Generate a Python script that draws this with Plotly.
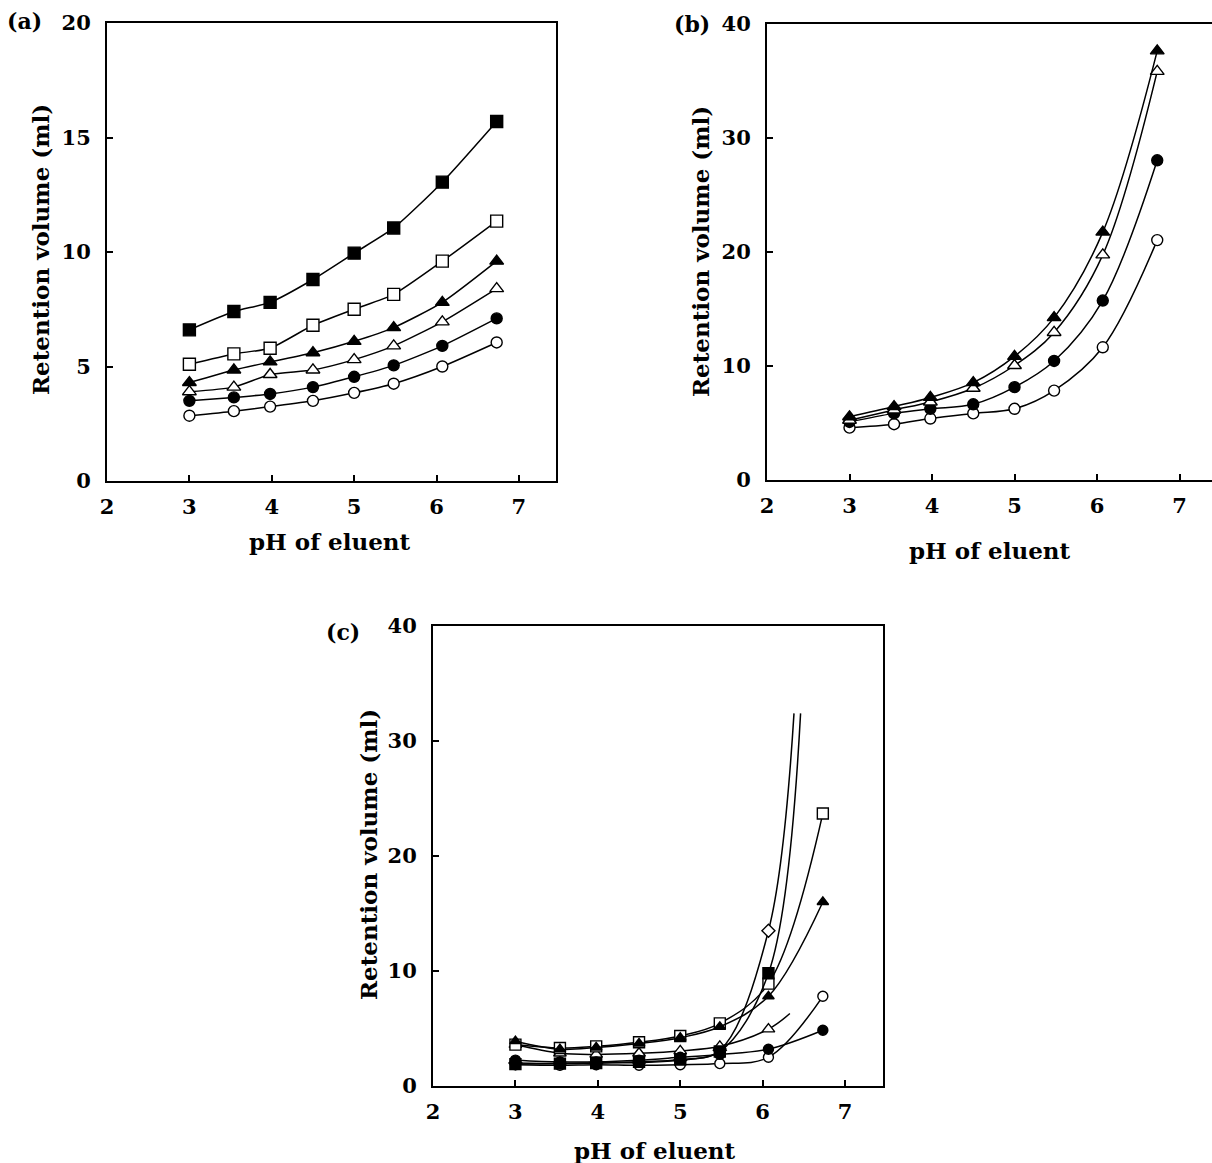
import plotly.graph_objects as go

W, H = 1212, 1163

# ---------------- data ----------------
ph = [3.0, 3.54, 3.98, 4.5, 5.0, 5.48, 6.07, 6.73]

# panel (a)
a_fsq = [6.6, 7.4, 7.8, 8.8, 9.95, 11.05, 13.05, 15.7]
a_osq = [5.1, 5.55, 5.8, 6.8, 7.5, 8.15, 9.6, 11.35]
a_ftr = [4.3, 4.85, 5.2, 5.6, 6.1, 6.7, 7.8, 9.6]
a_otr = [3.9, 4.1, 4.65, 4.85, 5.3, 5.9, 6.95, 8.4]
a_fci = [3.5, 3.65, 3.8, 4.1, 4.55, 5.05, 5.9, 7.1]
a_oci = [2.85, 3.05, 3.25, 3.5, 3.85, 4.25, 5.0, 6.05]

# panel (b)
b_ftr = [5.5, 6.4, 7.2, 8.5, 10.8, 14.2, 21.7, 37.6]
b_otr = [5.2, 6.1, 6.8, 8.0, 10.0, 12.9, 19.7, 35.8]
b_fci = [5.05, 5.8, 6.2, 6.6, 8.1, 10.4, 15.7, 28.0]
b_oci = [4.55, 4.85, 5.35, 5.8, 6.2, 7.8, 11.6, 21.0]

# panel (c)
c_osq = [3.6, 3.3, 3.45, 3.8, 4.35, 5.45, 8.9, 23.7]
c_ftr = [3.9, 3.2, 3.35, 3.7, 4.2, 5.15, 7.8, 16.0]
c_otr = [3.6, 2.85, 2.75, 2.85, 3.05, 3.45, 4.95]
c_otr_end = (6.33, 6.3)
c_fci = [2.25, 2.1, 2.1, 2.25, 2.5, 2.75, 3.2, 4.85]
c_oci = [1.85, 1.8, 1.85, 1.8, 1.85, 1.95, 2.5, 7.8]
c_fsq = [1.9, 1.95, 2.0, 2.1, 2.3, 3.0, 9.8]
c_fsq_end = (6.46, 32.4)
c_odi = [2.0, 1.95, 2.0, 2.05, 2.25, 3.1, 13.5]
c_odi_end = (6.38, 32.4)

x_ticks = [2, 3, 4, 5, 6, 7]
a_yticks = [0, 5, 10, 15, 20]
bc_yticks = [0, 10, 20, 30, 40]

FONT = "DejaVu Serif"

fig = go.Figure()

def add_series(xs, ys, symbol, filled, axis, size=11, end=None, smoothing=1.0, lw=1.5):
    xa, ya = axis
    lx = list(xs[:len(ys)])
    ly = list(ys)
    if end is not None:
        lx.append(end[0])
        ly.append(end[1])
    fig.add_trace(go.Scatter(
        x=lx, y=ly, mode="lines", xaxis=xa, yaxis=ya,
        line=dict(color="black", width=lw, shape="spline", smoothing=smoothing),
        showlegend=False, hoverinfo="skip"))
    fig.add_trace(go.Scatter(
        x=list(xs[:len(ys)]), y=list(ys), mode="markers", xaxis=xa, yaxis=ya,
        marker=dict(symbol=symbol, size=size,
                    color="black" if filled else "white",
                    line=dict(color="black", width=1.4)),
        showlegend=False))

A = ("x", "y")
B = ("x2", "y2")
C = ("x3", "y3")

sm_a = 0.6
add_series(ph, a_oci, "circle", False, A, 11, smoothing=sm_a)
add_series(ph, a_fci, "circle", True, A, 11, smoothing=sm_a)
add_series(ph, a_otr, "triangle-up", False, A, 12, smoothing=sm_a)
add_series(ph, a_ftr, "triangle-up", True, A, 12, smoothing=sm_a)
add_series(ph, a_osq, "square", False, A, 12, smoothing=sm_a)
add_series(ph, a_fsq, "square", True, A, 12, smoothing=sm_a)

add_series(ph, b_oci, "circle", False, B, 11)
add_series(ph, b_fci, "circle", True, B, 11)
add_series(ph, b_otr, "triangle-up", False, B, 12)
add_series(ph, b_ftr, "triangle-up", True, B, 12)

add_series(ph, c_odi, "diamond", False, C, 10, end=c_odi_end)
add_series(ph, c_otr, "triangle-up", False, C, 11, end=c_otr_end)
add_series(ph, c_oci, "circle", False, C, 10)
add_series(ph, c_osq, "square", False, C, 11)
add_series(ph, c_fsq, "square", True, C, 11, end=c_fsq_end)
add_series(ph, c_fci, "circle", True, C, 10)
add_series(ph, c_ftr, "triangle-up", True, C, 10)

def px_x(p):
    return p / W

def px_y(p):
    return 1 - p / H

tickfont = dict(family=FONT, size=21, color="black", weight="bold")

def xaxis(dom, rng, mirror=True):
    return dict(domain=dom, range=rng, tickvals=x_ticks, ticks="inside", ticklen=6,
                tickwidth=1.5, tickcolor="black", showline=True, linecolor="black",
                linewidth=2, mirror=mirror, showgrid=False, zeroline=False,
                tickfont=tickfont, ticklabelstandoff=6, automargin=False)

def yaxis(dom, rng, tv, mirror=True):
    return dict(domain=dom, range=rng, tickvals=tv, ticks="inside", ticklen=6,
                tickwidth=1.5, tickcolor="black", showline=True, linecolor="black",
                linewidth=2, mirror=mirror, showgrid=False, zeroline=False,
                tickfont=tickfont, ticklabelstandoff=10, automargin=False)

b_xmax = 2 + (W - 767) / 82.5

fig.update_layout(
    width=W, height=H, margin=dict(l=0, r=0, t=0, b=0, pad=0, autoexpand=False),
    paper_bgcolor="white", plot_bgcolor="white", showlegend=False,
    xaxis=dict(xaxis([px_x(107), px_x(556)], [2, 7.45]), anchor="y"),
    yaxis=dict(yaxis([px_y(481), px_y(23)], [0, 20], a_yticks), anchor="x"),
    xaxis2=dict(xaxis([px_x(767), 1.0], [2, b_xmax]), anchor="y2"),
    yaxis2=dict(yaxis([px_y(479.5), px_y(23.5)], [0, 40], bc_yticks, mirror=False), anchor="x2"),
    xaxis3=dict(xaxis([px_x(433), px_x(883)], [2, 7.46]), anchor="y3"),
    yaxis3=dict(yaxis([px_y(1086), px_y(626)], [0, 40], bc_yticks), anchor="x3"),
)

titlefont = dict(family=FONT, size=23, color="black", weight="bold")
labfont = dict(family=FONT, size=22, color="black", weight="bold")

def ann(text, x, y, font, angle=0):
    fig.add_annotation(text=text, x=px_x(x), y=px_y(y), xref="paper", yref="paper",
                       showarrow=False, font=font, textangle=angle,
                       xanchor="center", yanchor="middle")

ann("Retention volume (ml)", 40, 250, titlefont, -90)
ann("Retention volume (ml)", 700, 252, titlefont, -90)
ann("Retention volume (ml)", 368, 855, titlefont, -90)
ann("pH of eluent", 330, 541, titlefont)
ann("pH of eluent", 990, 550, titlefont)
ann("pH of eluent", 655, 1150, titlefont)
ann("(a)", 24, 21, labfont)
ann("(b)", 692, 24, labfont)
ann("(c)", 343, 632, labfont)

fig.write_html("out.html")
